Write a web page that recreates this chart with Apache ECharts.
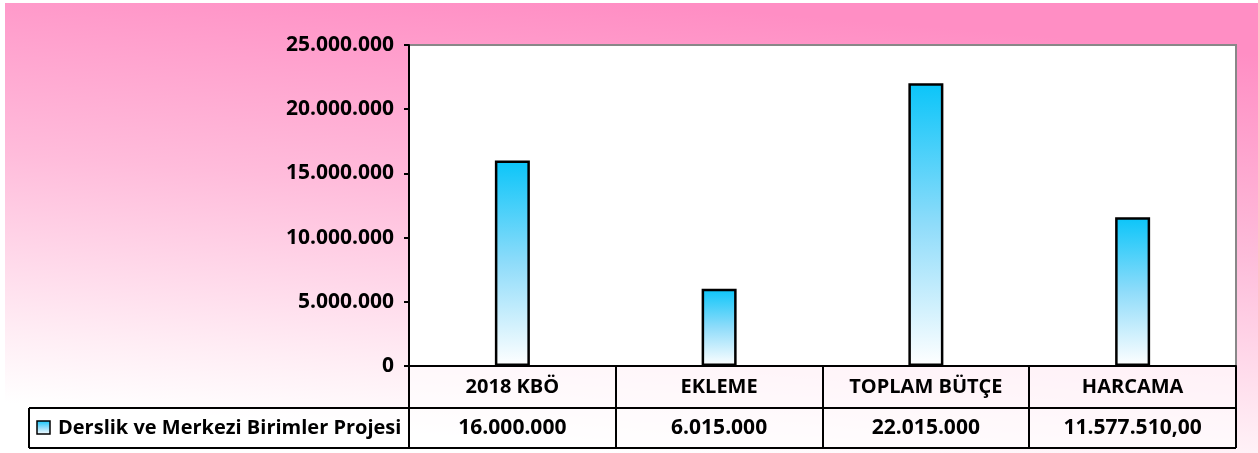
<!DOCTYPE html>
<html><head><meta charset="utf-8">
<script src="https://cdn.jsdelivr.net/npm/echarts@6/dist/echarts.min.js"></script>
<style>html,body{margin:0;padding:0;background:#fff}#c{width:1258px;height:453px}</style>
</head><body><div id="c"></div>
<script>
const categories = ['2018 KBÖ', 'EKLEME', 'TOPLAM BÜTÇE', 'HARCAMA'];
const values = [16000000, 6015000, 22015000, 11577510];
const valueLabels = ['16.000.000', '6.015.000', '22.015.000', '11.577.510,00'];
const seriesName = 'Derslik ve Merkezi Birimler Projesi';
const yTicks = { min: 0, max: 25000000, interval: 5000000 };

const FONT = 'Open Sans';
const G = { left: 409, top: 45, right: 1236, bottom: 366 };
const rowMid = 408, rowBot = 448, legendLeft = 29;

function fmt(v) { return String(v).replace(/\B(?=(\d{3})+(?!\d))/g, '.'); }

const chart = echarts.init(document.getElementById('c'), null, { renderer: 'canvas' });
const barGrad = new echarts.graphic.LinearGradient(0, 0, 0, 1, [
  { offset: 0, color: '#0BC5F9' }, { offset: 0.5, color: '#8FDCFA' }, { offset: 1, color: '#FFFFFF' }]);

const colW = (G.right - G.left) / categories.length;
const lines = [];
const L = (x1, y1, x2, y2) => lines.push({ type: 'line', z: 100, shape: { x1, y1, x2, y2 }, style: { stroke: '#000', lineWidth: 2 } });
for (let i = 0; i <= categories.length; i++) { const x = Math.round(G.left + i * colW); L(x, G.bottom, x, rowBot); }
L(legendLeft, rowMid, G.right, rowMid);
L(legendLeft, rowBot, G.right, rowBot);
L(legendLeft, rowMid, legendLeft, rowBot);

chart.setOption({
  animation: false,
  graphic: [
    { type: 'rect', z: -10, shape: { x: 5, y: 3, width: 1253, height: 450 },
      style: { fill: new echarts.graphic.LinearGradient(0.51, 0, 0.48, 1, [
        { offset: 0, color: '#FF8EC4' }, { offset: 0.45, color: '#FFBCDB' }, { offset: 0.85, color: '#FFEEF5' }, { offset: 1, color: '#FFFFFF' }]) } },
    { type: 'rect', z: -5, shape: { x: legendLeft, y: rowMid, width: G.left - legendLeft, height: rowBot - rowMid }, style: { fill: 'rgba(255,255,255,0.6)' } },
    { type: 'rect', z: -5, shape: { x: G.left, y: G.bottom, width: G.right - G.left, height: rowBot - G.bottom }, style: { fill: 'rgba(255,255,255,0.6)' } },
    { type: 'rect', z: 101, shape: { x: 37, y: 421, width: 13, height: 13 },
      style: { fill: barGrad, stroke: '#000', lineWidth: 1.5 } },
    { type: 'text', z: 101, x: 58, y: 428,
      style: { text: seriesName, fontFamily: FONT, fontWeight: 'bold', fontSize: 20, fill: '#000', verticalAlign: 'middle' } },
    ...lines
  ],
  grid: { left: G.left, top: G.top, right: 1258 - G.right, bottom: 453 - G.bottom, outerBoundsMode: 'none',
    show: true, backgroundColor: '#fff', borderColor: '#888', borderWidth: 2 },
  xAxis: [{
    type: 'category', data: categories,
    axisLine: { lineStyle: { color: '#000', width: 2 } }, axisTick: { show: false },
    axisLabel: { color: '#000', fontFamily: FONT, fontWeight: 'bold', fontSize: 20, margin: 21, verticalAlign: 'middle', interval: 0 }
  }, {
    type: 'category', data: categories, position: 'bottom',
    axisLine: { show: false }, axisTick: { show: false },
    axisLabel: { color: '#000', fontFamily: FONT, fontWeight: 'bold', fontSize: 21, margin: 62, verticalAlign: 'middle', interval: 0,
      formatter: (v, i) => valueLabels[i] }
  }],
  yAxis: {
    type: 'value', min: yTicks.min, max: yTicks.max, interval: yTicks.interval,
    axisLine: { show: true, lineStyle: { color: '#000', width: 2 } },
    axisTick: { show: true, length: 5, lineStyle: { color: '#000', width: 2 } },
    splitLine: { show: false },
    axisLabel: { color: '#000', fontFamily: FONT, fontWeight: 'bold', fontSize: 21, margin: 15, formatter: v => fmt(v) }
  },
  series: [{
    type: 'bar', name: seriesName, data: values, barWidth: 35,
    itemStyle: { color: barGrad, borderColor: '#000', borderWidth: 2.5 }
  }]
});
</script></body></html>
